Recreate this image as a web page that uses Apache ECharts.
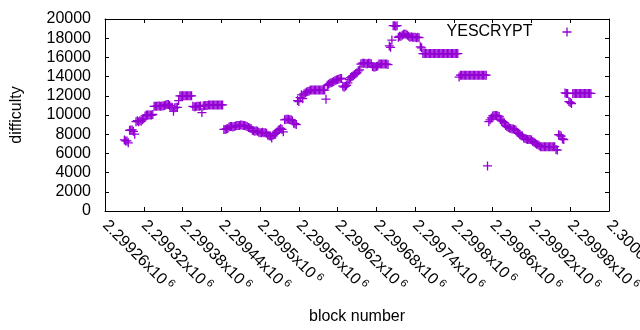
<!DOCTYPE html>
<html>
<head>
<meta charset="utf-8">
<script src="https://cdn.jsdelivr.net/npm/echarts@6/dist/echarts.min.js"></script>
<style>
  html, body { margin: 0; padding: 0; background: #fff; }
  #chart { width: 640px; height: 330px; }
</style>
</head>
<body>
<div id="chart"></div>
<script>
// 数据：每隔 2 个区块读一次难度（从原图估计）
const seriesName = 'YESCRYPT';
const firstBlock = 2299290;
const blockStep = 2;
const difficulty = [
  7400, 7300, 7300, 7100,                                   // 2299290
  8400, 8450, 8450, 8300, 8000,                             // 2299298
  9300, 9400, 9300, 9400, 9350, 9500, 9600,                 // 2299308
  9900, 10000, 10000, 10000, 10000, 10000, 10050,           // 2299322
  10900, 10900, 10900, 10950, 10950, 10900, 10950, 10950, 11000, // 2299336
  11050, 11100, 11100, 11000,                               // 2299354
  10800, 10800, 10400, 10750, 10800, 10800,                 // 2299362
  11500,                                                    // 2299374
  12000, 12000, 12000, 12000, 12000, 12000, 12000, 12000, 12000, 12000, // 2299376
  10900, 10850, 10850, 10900, 10900, 10900, 10950,          // 2299396
  10250,                                                    // 2299410
  10950, 11000, 11000, 11000, 11050, 11050, 11050, 11050,
  11050, 11050, 11050, 11050, 11050, 11050, 11050, 11050,   // 2299412
  8500, 8500, 8550, 8600,                                   // 2299444
  8750, 8800, 8800, 8750, 8800, 8850,                       // 2299452
  8900, 8900, 8900, 8950, 8950, 8900, 8900, 8850, 8800,     // 2299464
  8700, 8650, 8600,                                         // 2299482
  8400, 8350, 8300, 8350, 8300,                             // 2299488
  8200, 8150, 8150, 8200, 8150, 8150, 8100,                 // 2299498
  7900, 7850, 7800, 7600,                                   // 2299512
  7900, 8000, 8100, 8200, 8400, 8500,                       // 2299520
  8600, 8500, 8250,                                         // 2299532
  9500, 9550, 9550, 9550, 9500, 9500, 9400,                 // 2299538
  9150, 9100, 9000,                                         // 2299552
  11500, 11400, 11800, 12100, 11700,                        // 2299558
  12200, 12300,                                             // 2299568
  12400, 12450, 12500,                                      // 2299572
  12600, 12600, 12600, 12600, 12600, 12600, 12600, 12600, 12600, 12600, 12600, 12600, // 2299578
  11650,                                                    // 2299602
  13100, 13200, 13300, 13350, 13400,                        // 2299604
  13500, 13600, 13650, 13700, 13750, 13800, 13800,          // 2299614
  13000, 12900, 13000, 13100, 13350,                        // 2299628
  13700, 13900,                                             // 2299638
  14000, 14100, 14200, 14300, 14400, 14600,                 // 2299642
  14700, 15300,                                             // 2299654
  15400, 15400, 15400, 15350, 15350, 15400, 15400, 15350,   // 2299658
  15050, 15000, 15000, 15050, 15100,                        // 2299674
  15300, 15300, 15300, 15300, 15300, 15300, 15300, 15250,   // 2299684
  17200, 17050, 17800, 19300, 19300, 19250, 19300,          // 2299700
  18100, 18200, 18200, 18300, 18400, 18450, 18400, 18300,   // 2299714
  18200, 18100, 18150, 18100, 18100, 18100, 18050, 18100, 18050, // 2299730
  17100, 17000,                                             // 2299748
  16400, 16400, 16400, 16400, 16400, 16400, 16400, 16400, 16400, 16400, 16400, 16400, 16400, 16400,
  16400, 16400, 16400, 16400, 16400, 16400, 16400, 16400, 16400, 16400, 16400, 16400, 16400, 16400, // 2299752
  13950,                                                    // 2299808
  14150, 14150, 14150, 14150, 14150, 14150, 14150, 14150, 14150, 14150, 14150,
  14150, 14150, 14150, 14150, 14150, 14150, 14150, 14150, 14150, 14150, // 2299810
  4700,                                                     // 2299852
  9300, 9500, 9700,                                         // 2299854
  9900, 9950, 9950, 9950, 9900, 9850,                       // 2299860
  9500, 9400, 9300, 9200,                                   // 2299872
  8900, 8800, 8700, 8650, 8600,                             // 2299880
  8550, 8550, 8500, 8400,                                   // 2299890
  8200, 8100, 7950, 7850, 7800,                             // 2299898
  7600, 7550, 7500, 7450, 7450, 7450, 7400,                 // 2299908
  7250, 7150, 7050, 6950, 6900, 6800,                       // 2299922
  6700, 6700, 6700, 6700, 6700, 6700, 6700, 6700, 6700, 6700, 6700, 6700, // 2299934
  6400, 6350,                                               // 2299958
  7950, 7900, 7800, 7500, 7450,                             // 2299962
  12300, 12250, 12250,                                      // 2299972
  11400, 11300, 11200,                                      // 2299978
  12250, 12250, 12250, 12250, 12250, 12250, 12250, 12250,
  12250, 12250, 12250, 12250, 12250, 12250, 12250           // 2299984
];

// 坐标轴范围
const xRange = [2299260, 2300040];
const xStep = 60;
const yRange = [0, 20000];
const yStep = 2000;

// 十字形点标记（线略粗一点，抵消抗锯齿变淡）
const PLUS = 'path://M0,3.85L9,3.85L9,5.15L0,5.15Z M3.85,0L5.15,0L5.15,9L3.85,9Z';
const FONT = 'Liberation Sans';
const FONT_SIZE = 16;
const COLOR = '#9400d3';

// 区块号与难度配对
const points = difficulty.map((d, i) => [firstBlock + i * blockStep, d]);

// gnuplot 风格的刻度文字：2.29926x10^6
function fmtBlock(v) {
  const m = parseFloat((v / 1e6).toFixed(5));
  return '{m|' + m + 'x10}{e| 6}';
}

const chart = echarts.init(document.getElementById('chart'));

const mirrorAxis = {
  type: 'value',
  axisLine: { show: true, onZero: false, lineStyle: { color: '#000', width: 1 } },
  axisTick: { show: true, inside: true, length: 4, lineStyle: { color: '#000' } },
  axisLabel: { show: false },
  splitLine: { show: false }
};

chart.setOption({
  animation: false,
  textStyle: { fontFamily: FONT },
  grid: { left: 105, right: 31, top: 19, bottom: 119, outerBoundsMode: 'none', containLabel: false },
  legend: {
    data: [{ name: seriesName, icon: PLUS }],
    right: 63.5,
    top: 19,
    align: 'right',
    itemWidth: 9,
    itemHeight: 9,
    textStyle: { fontSize: FONT_SIZE, color: '#000', fontFamily: FONT, padding: [0, 25, 0, 0] }
  },
  xAxis: [
    {
      type: 'value',
      position: 'bottom',
      min: xRange[0],
      max: xRange[1],
      interval: xStep,
      name: 'block number',
      nameLocation: 'middle',
      nameGap: 98,
      nameTextStyle: { fontSize: FONT_SIZE, color: '#000', fontFamily: FONT },
      axisLine: { show: true, onZero: false, lineStyle: { color: '#000', width: 1 } },
      axisTick: { show: true, inside: true, length: 4, lineStyle: { color: '#000' } },
      splitLine: { show: false },
      axisLabel: {
        rotate: -45,
        margin: 12,
        color: '#000',
        showMinLabel: true,
        showMaxLabel: true,
        hideOverlap: false,
        formatter: fmtBlock,
        rich: {
          m: { fontSize: FONT_SIZE, color: '#000', fontFamily: FONT },
          e: { fontSize: 11, color: '#000', fontFamily: FONT, padding: [0, 0, 8, 0] }
        }
      }
    },
    Object.assign({}, mirrorAxis, { position: 'top', min: xRange[0], max: xRange[1], interval: xStep })
  ],
  yAxis: [
    {
      type: 'value',
      position: 'left',
      min: yRange[0],
      max: yRange[1],
      interval: yStep,
      name: 'difficulty',
      nameLocation: 'middle',
      nameGap: 80,
      nameTextStyle: { fontSize: FONT_SIZE, color: '#000', fontFamily: FONT },
      axisLine: { show: true, onZero: false, lineStyle: { color: '#000', width: 1 } },
      axisTick: { show: true, inside: true, length: 4, lineStyle: { color: '#000' } },
      splitLine: { show: false },
      axisLabel: {
        margin: 14,
        fontSize: FONT_SIZE,
        color: '#000',
        fontFamily: FONT,
        formatter: v => String(v)
      }
    },
    Object.assign({}, mirrorAxis, { position: 'right', min: yRange[0], max: yRange[1], interval: yStep })
  ],
  series: [{
    name: seriesName,
    type: 'scatter',
    xAxisIndex: 0,
    yAxisIndex: 0,
    symbol: PLUS,
    symbolSize: 9,
    itemStyle: { color: COLOR, opacity: 1 },
    data: points
  }]
});
</script>
</body>
</html>
